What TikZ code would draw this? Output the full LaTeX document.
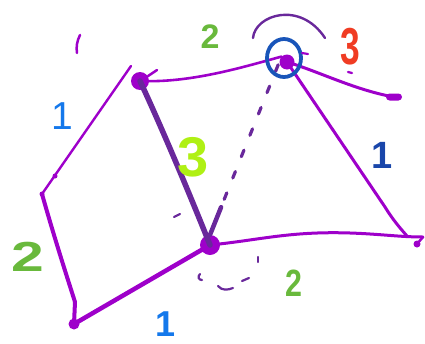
\documentclass[tikz,border=0pt]{standalone}
\usepackage{fontspec}
\setmainfont{Liberation Sans}
\usetikzlibrary{calc}
\definecolor{vio}{RGB}{158,0,202}
\definecolor{dvio}{RGB}{105,40,155}
\definecolor{grn}{RGB}{105,185,60}
\definecolor{rd}{RGB}{240,60,35}
\definecolor{navyone}{RGB}{25,70,170}
\definecolor{blu}{RGB}{20,120,235}
\definecolor{lim}{RGB}{175,240,20}
\definecolor{cblue}{RGB}{25,85,185}
\newcommand\fsz[1]{\fontsize{#1}{#1}\selectfont}
\begin{document}
\begin{tikzpicture}[x=1pt,y=-1pt,
  edge/.style={draw=vio, line cap=round, line join=round},
  blob/.style={circle, fill=vio, inner sep=0pt},
  scribble/.style={draw=dvio, line cap=round, line width=2.2pt},
  lab/.style={inner sep=0pt, outer sep=0pt},
]
\useasboundingbox (0,0) rectangle (425,343);

% vertices
\node[blob, minimum size=18pt] (A) at (140,81) {};
\node[blob, minimum size=15pt] (B) at (287,62) {};
\node[blob, minimum size=20pt] (C) at (210,245) {};
\node[blob, minimum size=5pt] (D) at (42,194) {};
\node[blob, minimum size=11pt] (E) at (74,324) {};
\node[blob, minimum size=7pt] (F) at (417,244) {};
\node[fill=vio, rectangle, rounded corners=3.5pt, minimum width=16pt, minimum height=7pt, inner sep=0pt] (T) at (394,97) {};
\node[blob, minimum size=5pt] (Dm) at (55,176) {};
\coordinate (Fj) at (423,237);
\coordinate (BF) at (407,236);
\coordinate (Atop) at (131,66);

% edges
\draw[edge, line width=2.6pt] (A.center) .. controls (190,83) and (240,68) .. (B.north west);
\draw[edge, line width=3pt] (B.center) -- (385,207) .. controls (393,220) and (400,228) .. (BF);
\draw[edge, line width=3pt] (C.center) .. controls (260,240) and (290,231) .. (350,233) .. controls (380,234) and (400,237) .. (Fj);
\draw[edge, line width=2.5pt] (Fj) -- (F.center);
\draw[edge, line width=3pt] (B.center) .. controls (320,72) and (355,90) .. (T.center);
\draw[edge, line width=2.4pt] (Atop) -- (D.center);
\draw[edge, line width=4pt] (D.center) .. controls (55,240) and (68,280) .. (75,302) -- (E.center);
\draw[edge, line width=4.5pt] (E.center) -- (C.center);
\draw[dvio, line width=5.5pt, line cap=round] (A.center) .. controls (162,128) and (190,195) .. (C.center);
\draw[dvio, line width=3.2pt, line cap=round, dash pattern=on 7pt off 16pt, dash phase=-3pt] (B.west) -- ($(B.west)!0.8!(C.north)$);
\draw[dvio, line width=4.5pt, line cap=round] ($(B.west)!0.84!(C.north)$) -- (C.north);

% circle and arc around B
\draw[cblue, line width=3.8pt] (284,58) ellipse [x radius=17, y radius=19];
\draw[scribble, line width=2.4pt] (253,38) .. controls (255,15) and (300,0) .. (325,38);

% scribbles
\draw[edge, line width=2.5pt] (80,35) .. controls (77,41) and (76,47) .. (77,53);
\draw[edge, line width=2.5pt] (148,76) -- (157,70);
\draw[edge, line width=2.2pt] (302,53) -- (308,54);
\draw[edge, line width=2.2pt] (348,72) -- (352,73);
\draw[scribble] (174,217) -- (180,214);
\draw[scribble] (200,274) .. controls (197,277) and (199,280) .. (202,280);
\draw[scribble] (218,286) .. controls (222,291) and (228,290) .. (233,288);
\draw[scribble] (242,281) -- (249,278);
\draw[scribble] (258,257) -- (258,262);

% labels
\node[lab, text=grn, font=\bfseries\fsz{34}] (l2a) at (210,37) {2};
\node[lab, text=rd, font=\bfseries\fsz{52}] (l3a) at (350,47) {\scalebox{0.68}[1]{3}};
\node[lab, text=navyone, font=\bfseries\fsz{38}] (l1a) at (382,155) {1};
\node[lab, text=lim, font=\bfseries\fsz{56}] (l3b) at (193,157) {3};
\node[lab, text=blu, font=\fsz{39}] (l1b) at (62,116) {1};
\node[lab, text=grn, font=\bfseries\fsz{42}] (l2b) at (28,257) {\scalebox{1.4}[1]{2}};
\node[lab, text=blu, font=\bfseries\fsz{36}] (l1c) at (166,324) {1};
\node[lab, text=grn, font=\bfseries\fsz{38}] (l2c) at (294,283) {\scalebox{0.8}[1]{2}};
\end{tikzpicture}
\end{document}
